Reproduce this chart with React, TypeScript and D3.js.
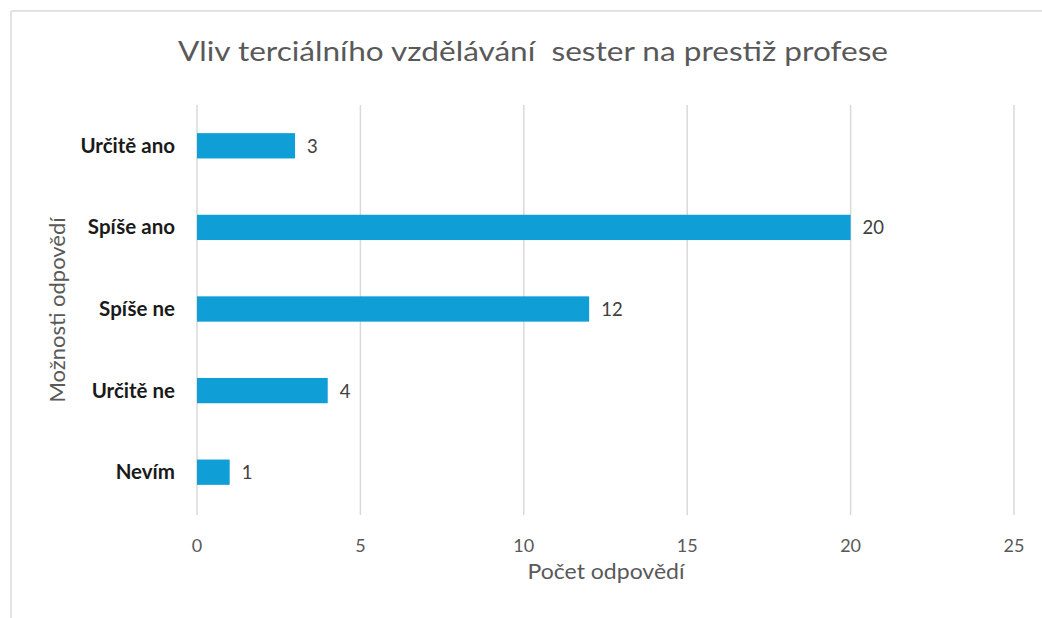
import React from "react";
import * as d3 from "d3";

const categories = ["Určitě ano", "Spíše ano", "Spíše ne", "Určitě ne", "Nevím"];
const values = [3, 20, 12, 4, 1];
const xTicks = [0, 5, 10, 15, 20, 25];
const title = "Vliv terciálního vzdělávání  sester na prestiž profese";
const xTitle = "Počet odpovědí";
const yTitle = "Možnosti odpovědí";

const W = 1042;
const H = 618;
const plot = { left: 197, right: 1014, top: 105, bottom: 513 };

export default function App() {
  const x = d3.scaleLinear().domain([0, 25]).range([plot.left, plot.right]);
  const y = d3
    .scaleBand<string>()
    .domain(categories)
    .range([plot.top, plot.bottom])
    .paddingInner(0.69)
    .paddingOuter(0.345);
  const font = "Lato, 'Open Sans', sans-serif";
  return (
    <svg
      width={W}
      height={H}
      style={{ position: "absolute", left: 0, top: 0, background: "#fff" }}
    >
      <rect x={0} y={0} width={W} height={H} fill="#fff" />
      <line x1={11} y1={11} x2={W} y2={11} stroke="#d9d9d9" strokeWidth={1.5} />
      <line x1={11} y1={11} x2={11} y2={H} stroke="#d9d9d9" strokeWidth={1.5} />
      <text
        x={533}
        y={61}
        textAnchor="middle"
        fontFamily={font}
        fontSize={27}
        fill="#595959"
        textLength={710}
        lengthAdjust="spacingAndGlyphs"
        style={{ whiteSpace: "pre" }}
      >
        {title}
      </text>
      {xTicks.map((t) => (
        <g key={t}>
          <line
            x1={x(t)}
            x2={x(t)}
            y1={plot.top}
            y2={plot.bottom + 2}
            stroke="#d9d9d9"
            strokeWidth={1.5}
          />
          <text
            x={x(t)}
            y={552}
            textAnchor="middle"
            fontFamily={font}
            fontSize={18}
            fill="#595959"
          >
            {t}
          </text>
        </g>
      ))}
      {categories.map((c, i) => (
        <g key={c}>
          <rect
            x={x(0)}
            y={y(c)}
            width={x(values[i]) - x(0)}
            height={y.bandwidth()}
            fill="#0f9ed5"
          />
          <text
            x={175}
            y={(y(c) as number) + y.bandwidth() / 2 + 7}
            textAnchor="end"
            fontFamily={font}
            fontWeight="bold"
            fontSize={20.5}
            fill="#1a1a1a"
          >
            {c}
          </text>
          <text
            x={x(values[i]) + 12}
            y={(y(c) as number) + y.bandwidth() / 2 + 7}
            textAnchor="start"
            fontFamily={font}
            fontSize={18.5}
            fill="#404040"
          >
            {values[i]}
          </text>
        </g>
      ))}
      <text
        x={606}
        y={579}
        textAnchor="middle"
        fontFamily={font}
        fontSize={21}
        fill="#595959"
        textLength={157}
        lengthAdjust="spacingAndGlyphs"
      >
        {xTitle}
      </text>
      <text
        transform="translate(65,310) rotate(-90)"
        textAnchor="middle"
        fontFamily={font}
        fontSize={21}
        fill="#595959"
        textLength={185}
        lengthAdjust="spacingAndGlyphs"
      >
        {yTitle}
      </text>
    </svg>
  );
}
